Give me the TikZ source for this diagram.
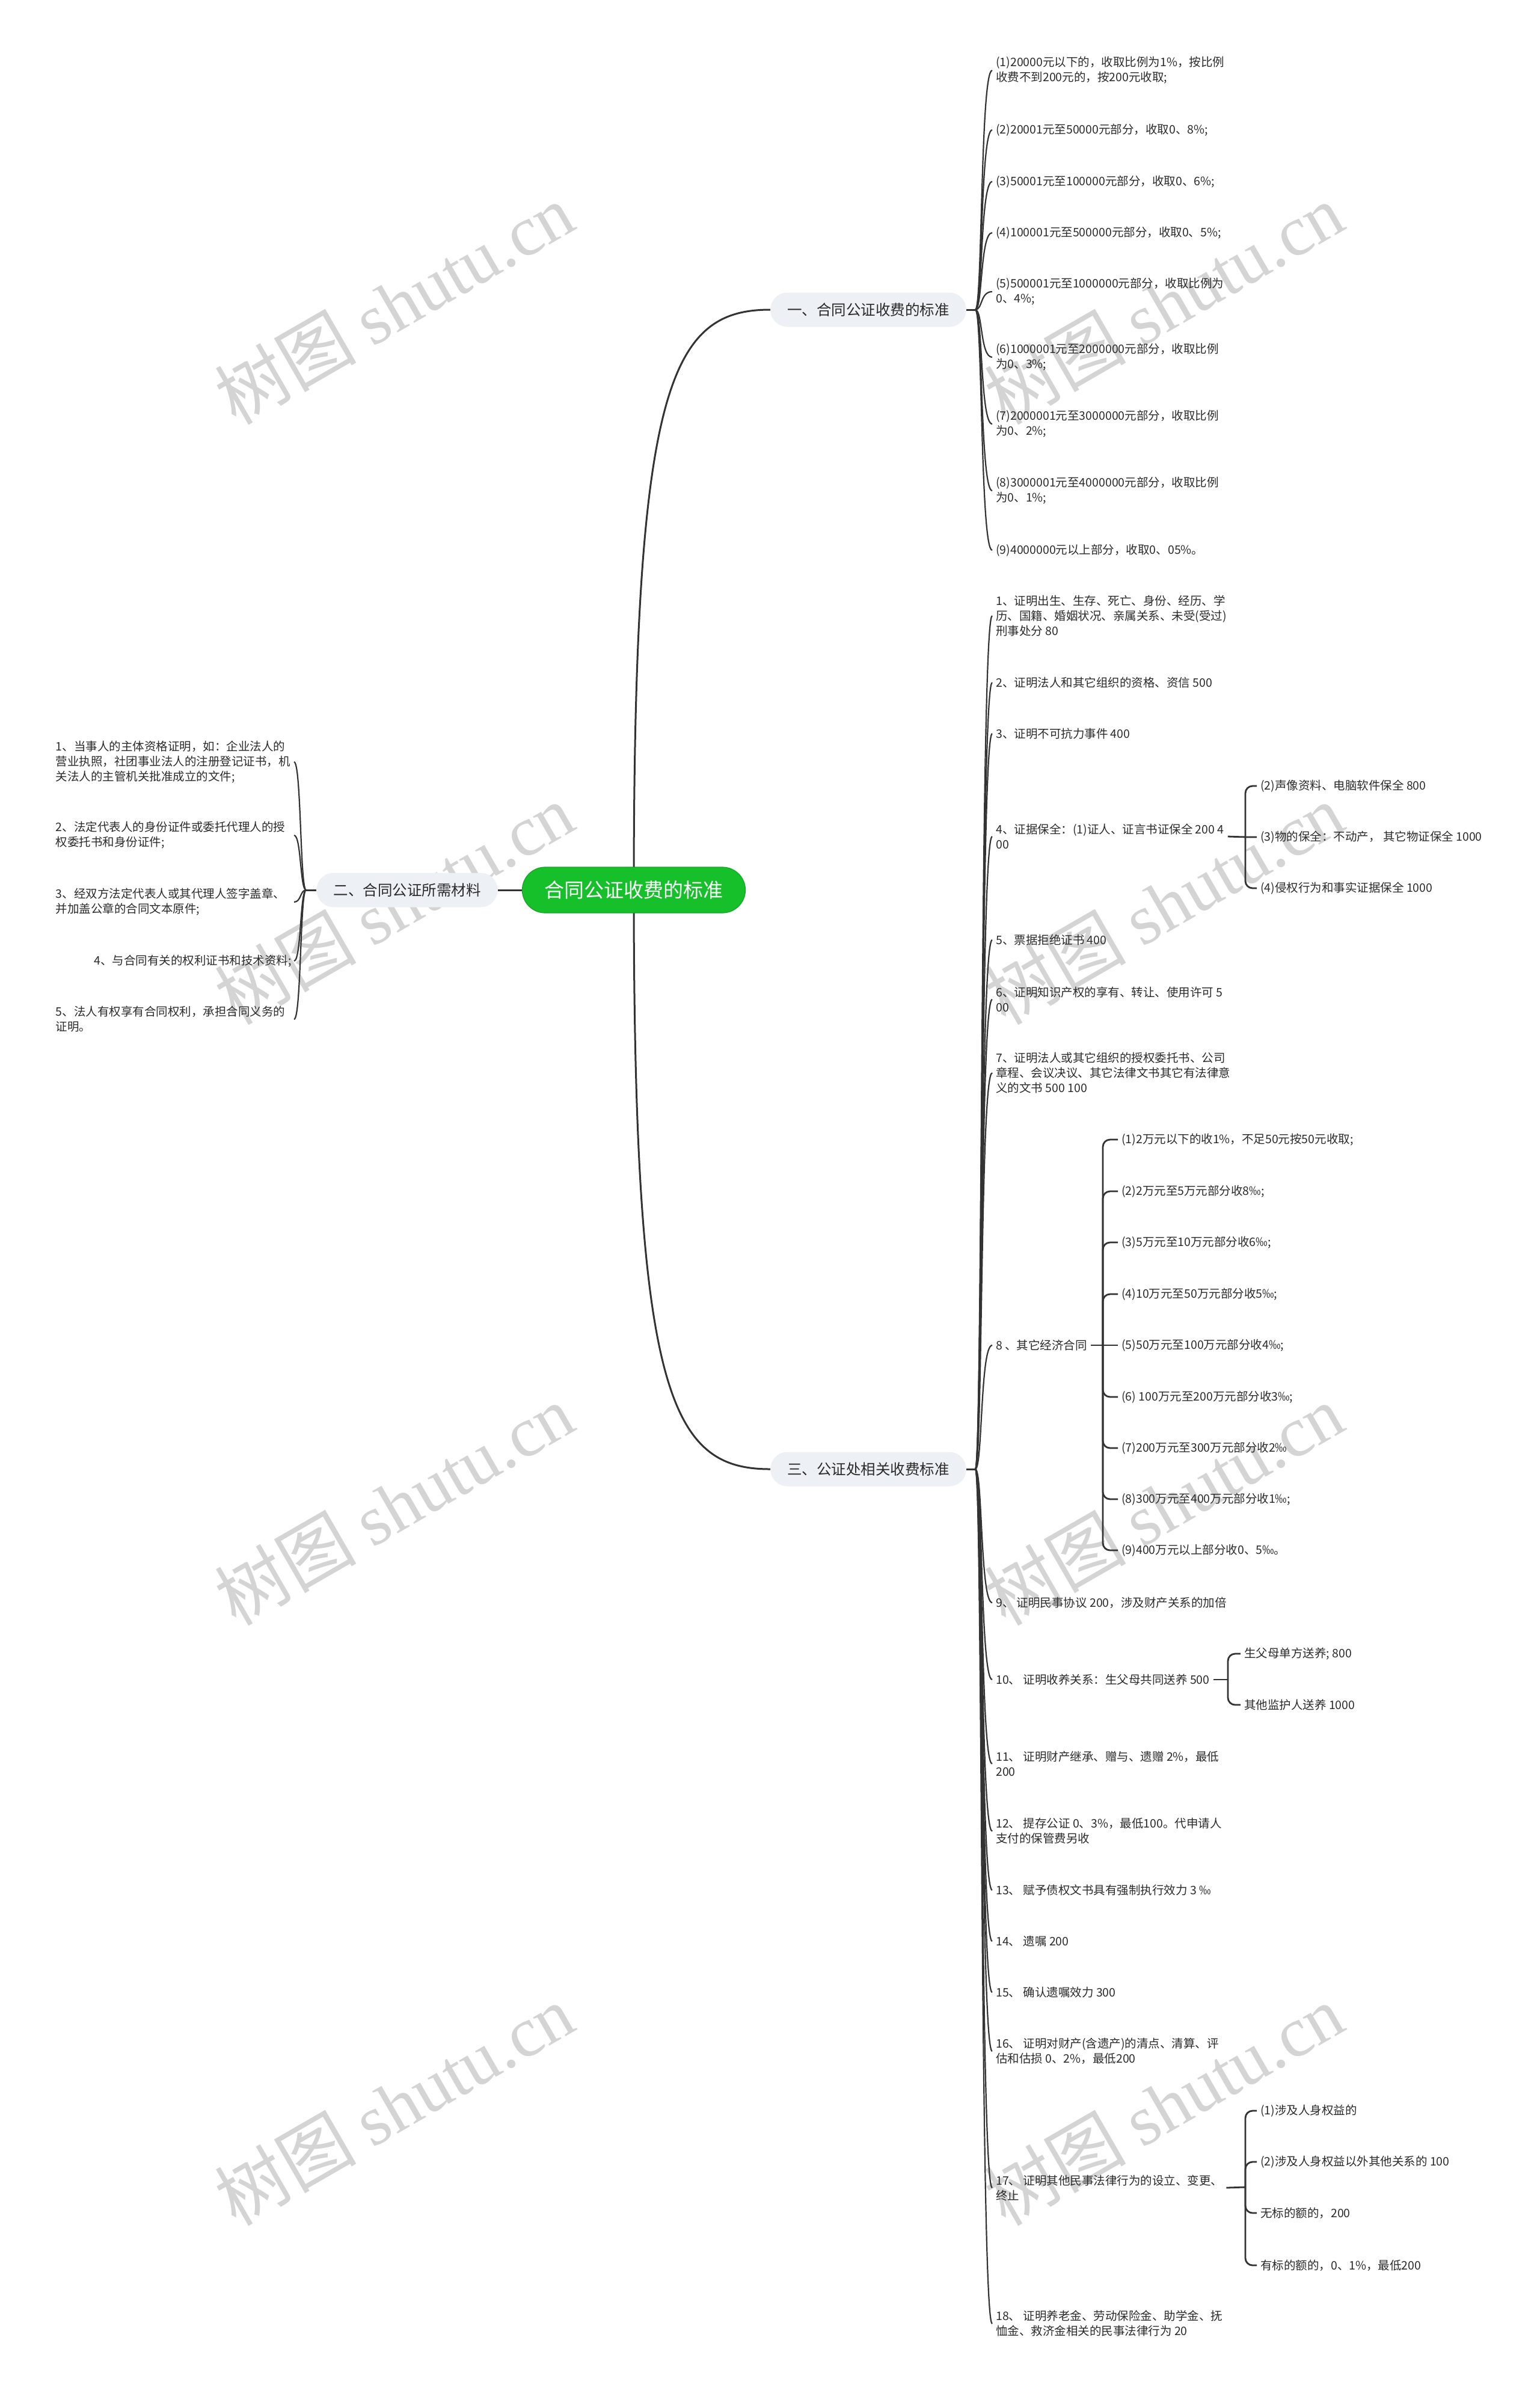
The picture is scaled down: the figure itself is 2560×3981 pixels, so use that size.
\documentclass[tikz,border=0pt]{standalone}
\usepackage{fontspec}
\setmainfont{Noto Sans CJK SC}
\newfontfamily\wmlatin{Liberation Serif}
\usetikzlibrary{calc}
\definecolor{linec}{HTML}{333333}
\definecolor{textc}{HTML}{2B2B2B}
\definecolor{pillc}{HTML}{EDF0F4}
\definecolor{greenc}{HTML}{16C02A}
\definecolor{greend}{HTML}{12A524}
\definecolor{wmc}{HTML}{D4D4D4}
\pgfdeclarelayer{bg}
\pgfsetlayers{bg,main}
\tikzset{
  leaf/.style={anchor=west, inner xsep=6pt, inner ysep=2pt, align=left, text=textc, font=\fontsize{19.5}{25}\selectfont},
  leafl/.style={anchor=east, inner xsep=4pt, inner ysep=2pt, text width=392pt, align=left, text=textc, font=\fontsize{19.5}{25}\selectfont},
  branch/.style={fill=pillc, rounded corners=28pt, minimum height=57pt, inner xsep=28pt, text=textc, font=\fontsize{24.5}{28}\selectfont},
  root/.style={fill=greenc, draw=greend, line width=1.2pt, rounded corners=38pt, minimum height=76pt, inner xsep=37pt, text=white, font=\fontsize{33}{36}\selectfont},
  mainline/.style={draw=linec, line width=3pt},
  brk/.style={draw=linec, line width=2.2pt},
  subbrk/.style={draw=linec, line width=2.8pt, rounded corners=12pt},
  wm/.style={text=wmc, rotate=30, font=\fontsize{118}{120}\selectfont}
}
\begin{document}
\begin{tikzpicture}[x=1pt,y=-1pt]
\useasboundingbox (0,0) rectangle (2560,3981);
\begin{pgfonlayer}{bg}
\fill[white] (0,0) rectangle (2560,3981);
\foreach \wy [count=\i] in {505,1503,2502,3500} {
  \node[wm] (wl\i) at (655,\wy) {树图 {\wmlatin shutu.cn}};
  \node[wm] (wr\i) at (1935,\wy) {树图 {\wmlatin shutu.cn}};
}
\end{pgfonlayer}

% main nodes
\node[root] (cn) at (1054,1480) {合同公证收费的标准};
\node[branch] (n1) at (1444,515) {一、合同公证收费的标准};
\node[branch] (n2) at (677,1480) {二、合同公证所需材料};
\node[branch] (n3) at (1444,2443) {三、公证处相关收费标准};
\coordinate (cx) at (1054,1480);
\coordinate (T1) at (1622,515);
\coordinate (T2) at (509,1480);
\coordinate (T3) at (1622,2443);

% branch 1 leaves
\node[leaf] (a1) at (1650,117) {(1)20000元以下的，收取比例为1\%，按比例\\收费不到200元的，按200元收取;};
\node[leaf] (a2) at (1650,216) {(2)20001元至50000元部分，收取0、8\%;};
\node[leaf] (a3) at (1650,302) {(3)50001元至100000元部分，收取0、6\%;};
\node[leaf] (a4) at (1650,387) {(4)100001元至500000元部分，收取0、5\%;};
\node[leaf] (a5) at (1650,485) {(5)500001元至1000000元部分，收取比例为\\0、4\%;};
\node[leaf] (a6) at (1650,594) {(6)1000001元至2000000元部分，收取比例\\为0、3\%;};
\node[leaf] (a7) at (1650,705) {(7)2000001元至3000000元部分，收取比例\\为0、2\%;};
\node[leaf] (a8) at (1650,816) {(8)3000001元至4000000元部分，收取比例\\为0、1\%;};
\node[leaf] (a9) at (1650,915) {(9)4000000元以上部分，收取0、05\%。};

% branch 2 leaves
\node[leafl] (b1) at (489,1267) {1、当事人的主体资格证明，如：企业法人的\\营业执照，社团事业法人的注册登记证书，机\\关法人的主管机关批准成立的文件;};
\node[leafl] (b2) at (489,1389) {2、法定代表人的身份证件或委托代理人的授\\权委托书和身份证件;};
\node[leafl] (b3) at (489,1500) {3、经双方法定代表人或其代理人签字盖章、\\并加盖公章的合同文本原件;};
\node[leafl, align=right] (b4) at (489,1598) {4、与合同有关的权利证书和技术资料;};
\node[leafl] (b5) at (489,1695) {5、法人有权享有合同权利，承担合同义务的\\证明。};

% branch 3 leaves
\node[leaf] (c1) at (1650,1024) {1、证明出生、生存、死亡、身份、经历、学\\历、国籍、婚姻状况、亲属关系、未受(受过)\\刑事处分 80};
\node[leaf] (c2) at (1650,1135) {2、证明法人和其它组织的资格、资信 500};
\node[leaf] (c3) at (1650,1220) {3、证明不可抗力事件 400};
\node[leaf] (c4) at (1650,1391) {4、证据保全：(1)证人、证言书证保全 200 4\\00};
\node[leaf] (c5) at (1650,1563) {5、票据拒绝证书 400};
\node[leaf] (c6) at (1650,1662) {6、证明知识产权的享有、转让、使用许可 5\\00};
\node[leaf] (c7) at (1650,1784) {7、证明法人或其它组织的授权委托书、公司\\章程、会议决议、其它法律文书其它有法律意\\义的文书 500 100};
\node[leaf] (c8) at (1650,2237) {8 、其它经济合同};
\node[leaf] (c9) at (1650,2665) {9、 证明民事协议 200，涉及财产关系的加倍};
\node[leaf] (c10) at (1650,2793) {10、 证明收养关系：生父母共同送养 500};
\node[leaf] (c11) at (1650,2933) {11、 证明财产继承、赠与、遗赠 2\%，最低\\200};
\node[leaf] (c12) at (1650,3045) {12、 提存公证 0、3\%，最低100。代申请人\\支付的保管费另收};
\node[leaf] (c13) at (1650,3143) {13、 赋予债权文书具有强制执行效力 3 ‰};
\node[leaf] (c14) at (1650,3228) {14、 遗嘱 200};
\node[leaf] (c15) at (1650,3313) {15、 确认遗嘱效力 300};
\node[leaf] (c16) at (1650,3411) {16、 证明对财产(含遗产)的清点、清算、评\\估和估损 0、2\%，最低200};
\node[leaf] (c17) at (1650,3638) {17、 证明其他民事法律行为的设立、变更、\\终止};
\node[leaf] (c18) at (1650,3864) {18、 证明养老金、劳动保险金、助学金、抚\\恤金、救济金相关的民事法律行为 20};

% sub leaves of 4
\node[leaf] (c4a) at (2090,1307) {(2)声像资料、电脑软件保全 800};
\node[leaf] (c4b) at (2090,1392) {(3)物的保全：不动产， 其它物证保全 1000};
\node[leaf] (c4c) at (2090,1477) {(4)侵权行为和事实证据保全 1000};
\coordinate (S4) at (2071,1392);
% sub leaves of 8
\node[leaf] (c81) at (1859,1895) {(1)2万元以下的收1\%，不足50元按50元收取;};
\node[leaf] (c82) at (1859,1981) {(2)2万元至5万元部分收8‰;};
\node[leaf] (c83) at (1859,2066) {(3)5万元至10万元部分收6‰;};
\node[leaf] (c84) at (1859,2152) {(4)10万元至50万元部分收5‰;};
\node[leaf] (c85) at (1859,2237) {(5)50万元至100万元部分收4‰;};
\node[leaf] (c86) at (1859,2323) {(6) 100万元至200万元部分收3‰;};
\node[leaf] (c87) at (1859,2408) {(7)200万元至300万元部分收2‰};
\node[leaf] (c88) at (1859,2493) {(8)300万元至400万元部分收1‰;};
\node[leaf] (c89) at (1859,2578) {(9)400万元以上部分收0、5‰。};
\coordinate (S8) at (1834,2237);
% sub leaves of 10
\node[leaf] (c10a) at (2063,2750) {生父母单方送养; 800};
\node[leaf] (c10b) at (2063,2835) {其他监护人送养 1000};
\coordinate (S10) at (2042,2793);
% sub leaves of 17
\node[leaf] (c17a) at (2090,3510) {(1)涉及人身权益的};
\node[leaf] (c17b) at (2090,3595) {(2)涉及人身权益以外其他关系的 100};
\node[leaf] (c17c) at (2090,3680) {无标的额的，200};
\node[leaf] (c17d) at (2090,3767) {有标的额的，0、1\%，最低200};
\coordinate (S17) at (2071,3637);

\begin{pgfonlayer}{bg}
% main connectors
\draw[mainline] (cx) .. controls (1054,640) and (1115,515) .. (n1.west);
\draw[mainline] (cx) .. controls (1054,2320) and (1115,2443) .. (n3.west);
\draw[mainline] (cn.west) -- (n2.east);
\draw[mainline] (n1.east) -- (T1);
\draw[mainline] (n3.east) -- (T3);
\draw[mainline] (n2.west) -- (T2);
% first-level brackets
\foreach \n in {a1,a2,a3,a4,a5,a6,a7,a8,a9}
  \draw[brk] (T1) .. controls ($(T1)+(12,0)$) and ($(\n.west)+(-20,0)$) .. (\n.west);
\foreach \n in {c1,c2,c3,c4,c5,c6,c7,c8,c9,c10,c11,c12,c13,c14,c15,c16,c17,c18}
  \draw[brk] (T3) .. controls ($(T3)+(12,0)$) and ($(\n.west)+(-20,0)$) .. (\n.west);
\foreach \n in {b1,b2,b3,b4,b5}
  \draw[brk] (T2) .. controls ($(T2)+(-10,0)$) and ($(\n.east)+(12,0)$) .. (\n.east);
% sub brackets
\draw[subbrk] (c4.east) -- (S4) -- (c4b.west);
\foreach \n in {c4a,c4c} \draw[subbrk] (S4) -- (S4 |- \n.west) -- (\n.west);
\draw[subbrk] (c8.east) -- (S8) -- (c85.west);
\foreach \n in {c81,c82,c83,c84,c86,c87,c88,c89} \draw[subbrk] (S8) -- (S8 |- \n.west) -- (\n.west);
\draw[subbrk] (c10.east) -- (S10);
\foreach \n in {c10a,c10b} \draw[subbrk] (S10) -- (S10 |- \n.west) -- (\n.west);
\draw[subbrk] (c17.east) -- (S17);
\foreach \n in {c17a,c17b,c17c,c17d} \draw[subbrk] (S17) -- (S17 |- \n.west) -- (\n.west);
\end{pgfonlayer}
\end{tikzpicture}
\end{document}
